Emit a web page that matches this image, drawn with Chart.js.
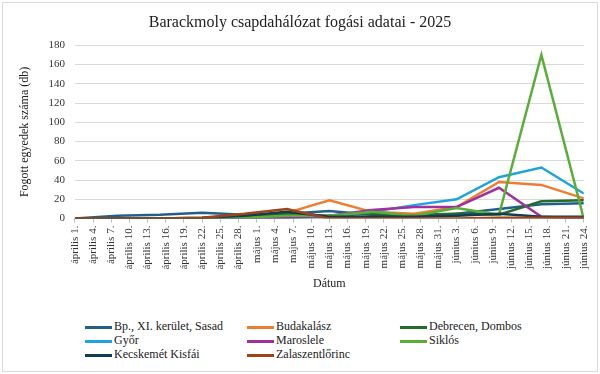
<!DOCTYPE html>
<html>
<head>
<meta charset="utf-8">
<script src="https://cdn.jsdelivr.net/npm/chart.js@4"></script>
<style>
  body { margin: 0; background: #fff; }
  #wrap { position: absolute; left: 2px; top: 2px; width: 594px; height: 368px; border: 1px solid #d9d9d9; background: #fff; }
  #chartBox { position: absolute; left: -3px; top: -3px; width: 600px; height: 300px; }
  #legend { position: absolute; left: 0; top: 0; font-family: "Liberation Serif", "Times New Roman", "DejaVu Serif", serif; font-size: 12px; color: #222; }
  .item { position: absolute; white-space: nowrap; line-height: 14px; }
  .item span.sw { display: inline-block; width: 27px; height: 3px; vertical-align: middle; margin-right: 2px; }
</style>
</head>
<body>
<div id="wrap">
  <div id="chartBox"><canvas id="myChart"></canvas></div>
  <div id="legend"></div>
</div>
<script>
    // napok április 1-től számolva, heti mintavétel (keddenként)
    const sampleDays = [0, 7, 14, 21, 28, 35, 42, 49, 56, 63, 70, 77, 84];

    const tickLabels = [
        'április 1.', 'április 4.', 'április 7.', 'április 10.', 'április 13.',
        'április 16.', 'április 19.', 'április 22.', 'április 25.', 'április 28.',
        'május 1.', 'május 4.', 'május 7.', 'május 10.', 'május 13.',
        'május 16.', 'május 19.', 'május 22.', 'május 25.', 'május 28.', 'május 31.',
        'június 3.', 'június 6.', 'június 9.', 'június 12.', 'június 15.',
        'június 18.', 'június 21.', 'június 24.'
    ];

    const sites = [
        'Bp., XI. kerület, Sasad',
        'Budakalász',
        'Debrecen, Dombos',
        'Győr',
        'Maroslele',
        'Siklós',
        'Kecskemét Kisfái',
        'Zalaszentlőrinc'
    ];

    const sasad = [0, 3, 4, 6, 4, 5, 8, 4, 4, 5, 10, 15, 16];
    const budakalasz = [0, 0, 0, 0, 3, 6, 19, 7, 5, 12, 38, 35, 21];
    const debrecen = [0, 0, 0, 0, 1, 5, 3, 5, 3, 5, 4, 18, 19];
    const gyor = [0, 0, 0, 0, 0, 1, 2, 7, 14, 20, 43, 53, 26];
    const maroslele = [0, 0, 0, 0, 0, 1, 3, 9, 12, 12, 32, 2, 0];
    const siklos = [0, 0, 0, 0, 1, 3, 3, 7, 3, 11, 4, 170, 0];
    const kecskemet = [0, 0, 0, 1, 3, 7, 2, 2, 2, 3, 5, 2, 2];
    const zalaszentlorinc = [0, 0, 0, 1, 5, 10, 0, 0, 0, 0, 1, 1, 1];

    const series = [sasad, budakalasz, debrecen, gyor, maroslele, siklos, kecskemet, zalaszentlorinc];
    const colors = ['#22608c', '#ed7d31', '#236d2c', '#1fa3dc', '#a0309f', '#5aae36', '#113c52', '#9e4417'];

    const serif = "'Liberation Serif', 'Times New Roman', 'DejaVu Serif', serif";

    const data = {
        datasets: series.map((vals, i) => ({
            label: sites[i],
            data: vals.map((v, k) => ({ x: sampleDays[k], y: v })),
            borderColor: colors[i],
            backgroundColor: colors[i],
            borderWidth: 2.5,
            pointRadius: 0,
            tension: 0,
            order: -i
        }))
    };

    const config = {
        type: 'line',
        data: data,
        options: {
            responsive: true,
            maintainAspectRatio: false,
            animation: false,
            layout: { padding: { left: 14, right: 14, top: 5, bottom: 5 } },
            plugins: {
                legend: { display: false },
                tooltip: { enabled: false },
                title: {
                    display: true,
                    text: 'Barackmoly csapdahálózat fogási adatai - 2025',
                    color: '#222',
                    font: { family: serif, size: 16, weight: 'normal' },
                    padding: { top: 8, bottom: 13 }
                }
            },
            scales: {
                x: {
                    type: 'linear',
                    min: 0,
                    max: 84,
                    ticks: {
                        stepSize: 3,
                        autoSkip: false,
                        maxRotation: 90,
                        minRotation: 90,
                        color: '#333',
                        font: { family: serif, size: 11 },
                        callback: (v) => tickLabels[Math.round(v / 3)]
                    },
                    grid: { drawOnChartArea: false, color: '#bfbfbf', tickLength: 4 },
                    border: { color: '#bfbfbf' },
                    title: {
                        display: true,
                        text: 'Dátum',
                        color: '#222',
                        font: { family: serif, size: 12 },
                        padding: { top: 4 }
                    }
                },
                y: {
                    min: 0,
                    max: 180,
                    ticks: {
                        stepSize: 20,
                        color: '#333',
                        font: { family: serif, size: 11 },
                        padding: 10
                    },
                    grid: { color: '#d9d9d9', drawTicks: false },
                    border: { display: false },
                    title: {
                        display: true,
                        text: 'Fogott egyedek száma (db)',
                        color: '#222',
                        font: { family: serif, size: 12 },
                        padding: { bottom: 6 }
                    }
                }
            }
        }
    };

    const myChart = new Chart(document.getElementById('myChart'), config);

    // jelmagyarázat három oszlopban, mint az eredetin
    const legendCols = [82, 244, 397];
    const legendRows = [316, 330, 344];
    const legend = document.getElementById('legend');
    sites.forEach((name, i) => {
        const el = document.createElement('div');
        el.className = 'item';
        el.style.left = legendCols[i % 3] + 'px';
        el.style.top = legendRows[Math.floor(i / 3)] + 'px';
        el.innerHTML = '<span class="sw" style="background:' + colors[i] + '"></span>' + name;
        legend.appendChild(el);
    });
</script>
</body>
</html>
